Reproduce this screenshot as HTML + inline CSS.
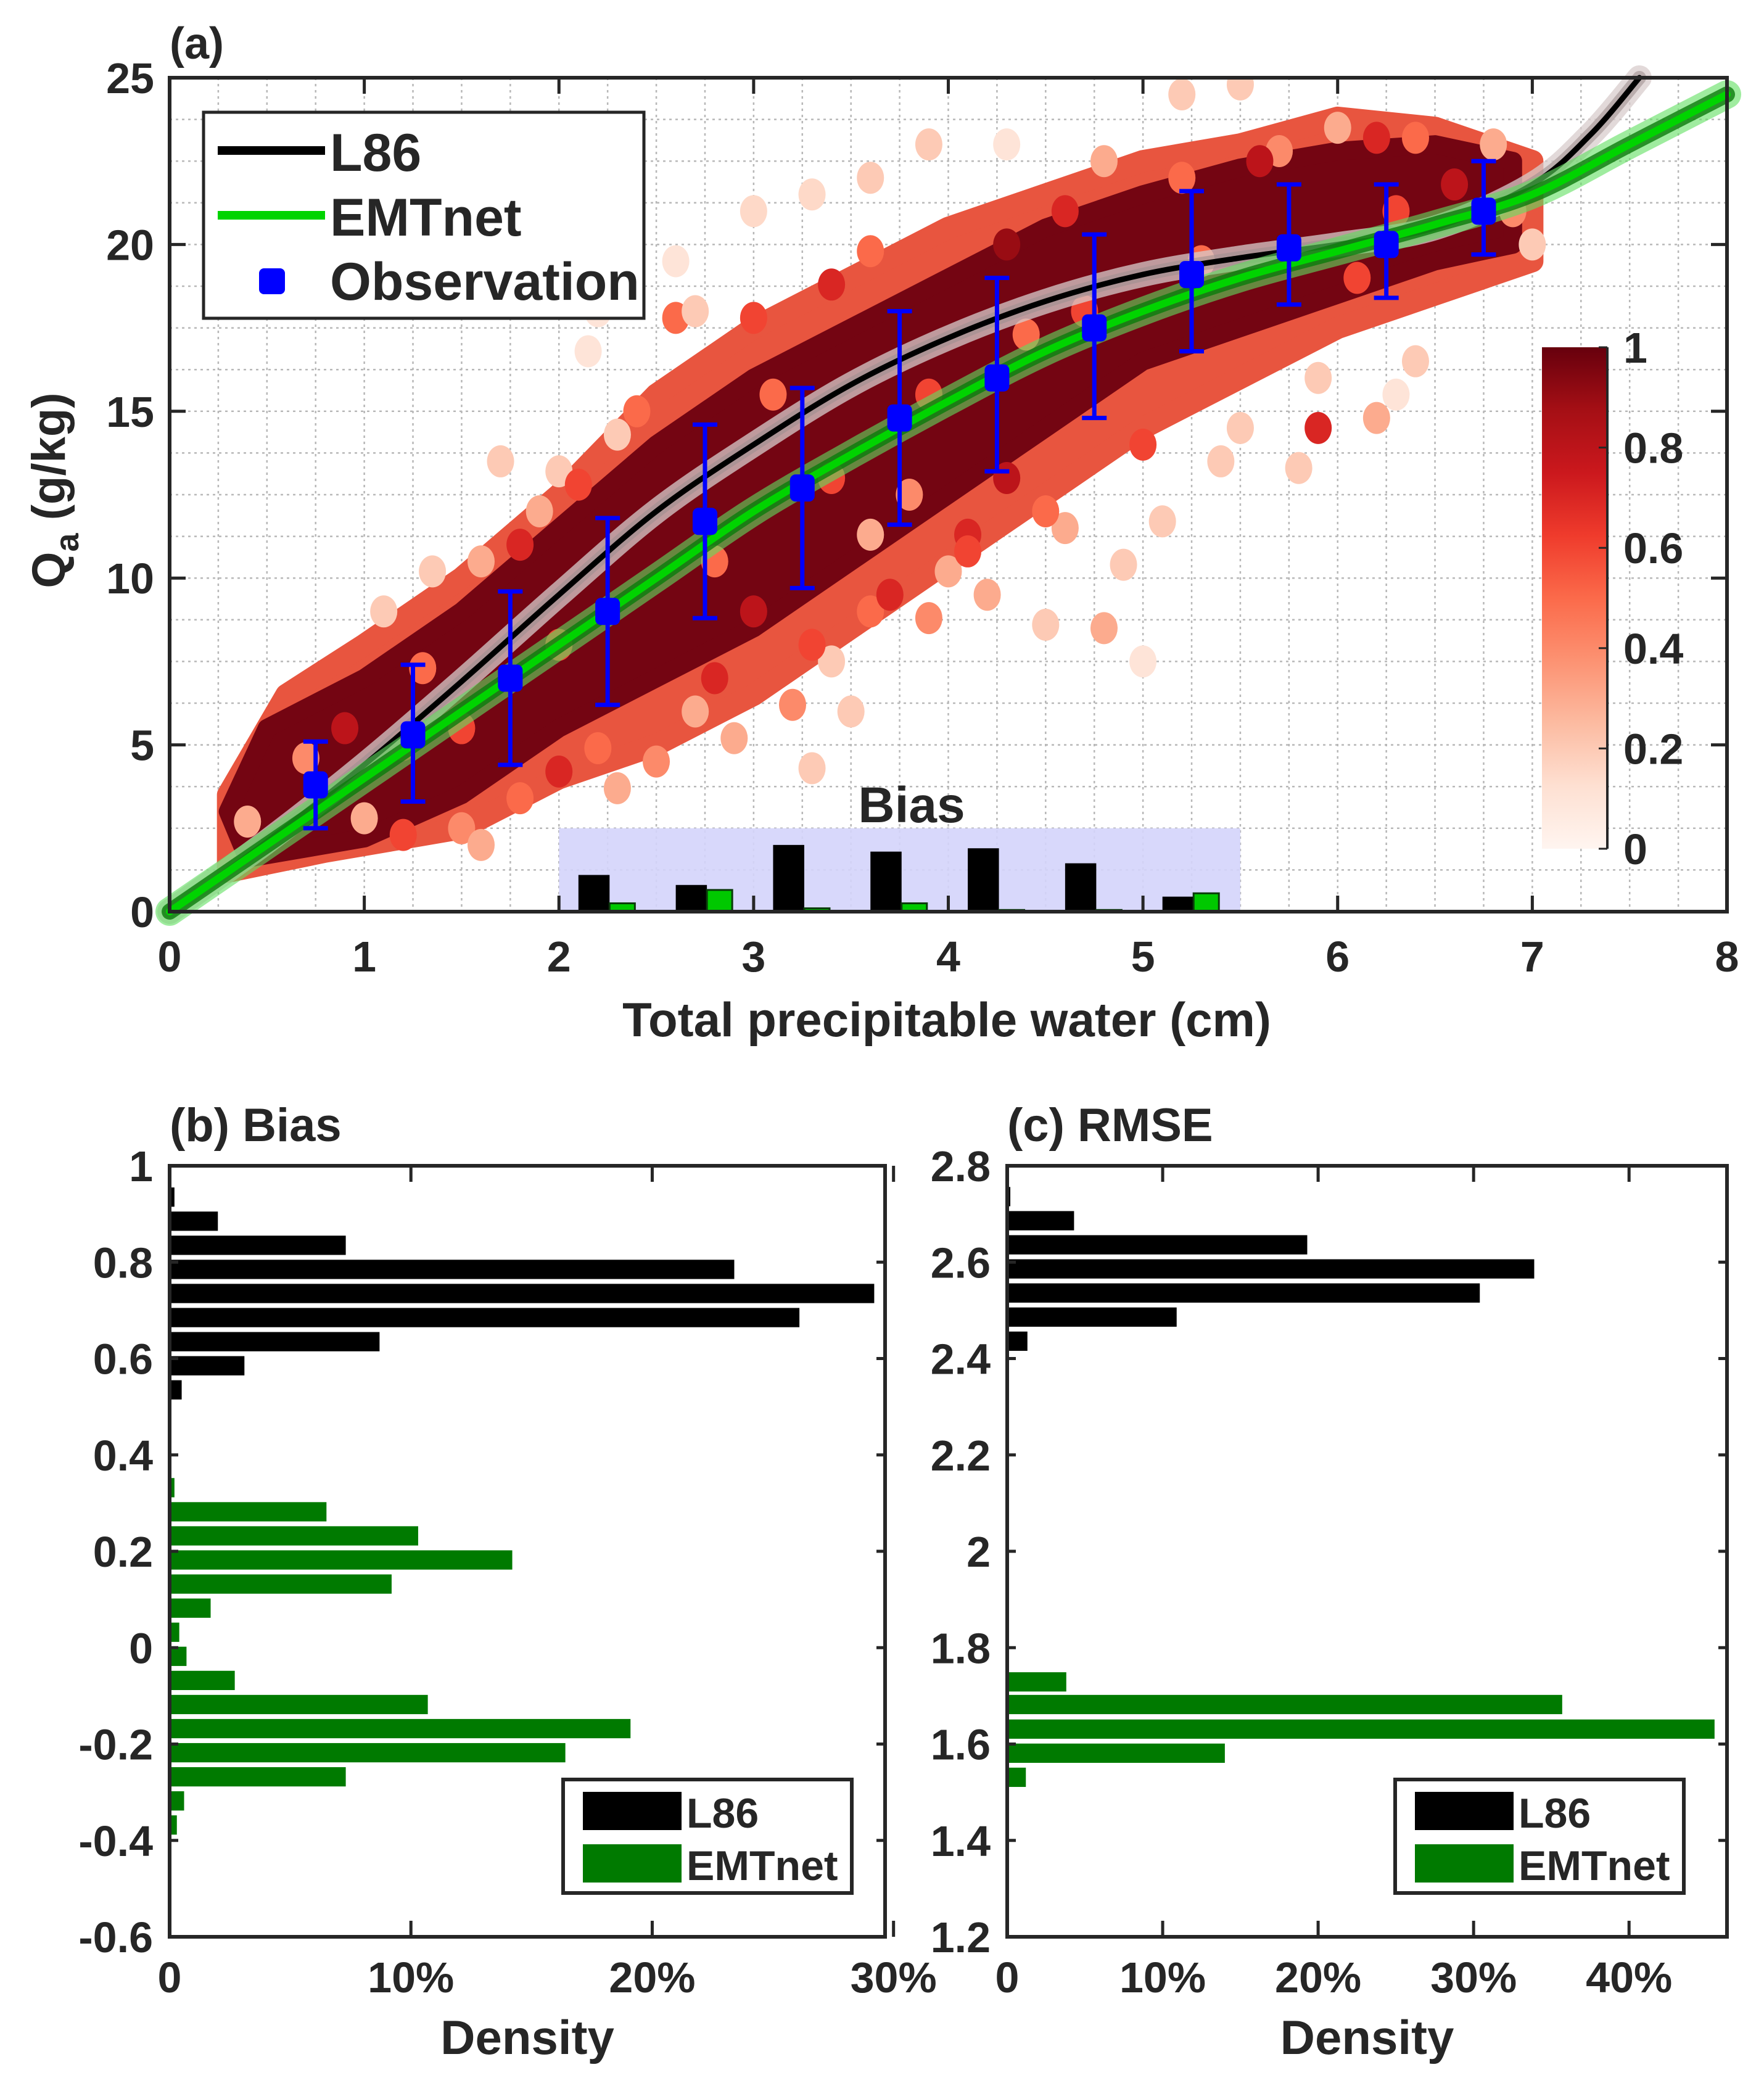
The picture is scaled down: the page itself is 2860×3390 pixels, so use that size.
<!DOCTYPE html>
<html><head><meta charset="utf-8"><style>
html,body{margin:0;padding:0;background:#fff}
svg{display:block}
text{font-family:"Liberation Sans",Arial,sans-serif;font-weight:bold;fill:#262626}
</style></head><body>
<svg id="fig" xmlns="http://www.w3.org/2000/svg" width="2860" height="3390" viewBox="0 0 2860 3390">
<defs>
<linearGradient id="cbgrad" x1="0" y1="1" x2="0" y2="0">
<stop offset="0" stop-color="#fff5f0"/><stop offset="0.125" stop-color="#fee0d2"/><stop offset="0.25" stop-color="#fcbba1"/><stop offset="0.375" stop-color="#fc9272"/><stop offset="0.5" stop-color="#fb6a4a"/><stop offset="0.625" stop-color="#ef3b2c"/><stop offset="0.75" stop-color="#cb181d"/><stop offset="0.875" stop-color="#a50f15"/><stop offset="1" stop-color="#67000d"/>
</linearGradient>
<clipPath id="clipA"><rect x="275" y="126" width="2525" height="1352"/></clipPath>
</defs>
<g id="panelA"></g>
<g id="panelB"></g>
<g id="panelC"></g>
</svg>
<script>
// ---------- Panel (a) data ----------
const obsX = [0.75,1.25,1.75,2.25,2.75,3.25,3.75,4.25,4.75,5.25,5.75,6.25,6.75];
const obsY = [3.8,5.3,7.0,9.0,11.7,12.7,14.8,16.0,17.5,19.1,19.9,20.0,21.0];
const obsLo = [2.5,3.3,4.4,6.2,8.8,9.7,11.6,13.2,14.8,16.8,18.2,18.4,19.7];
const obsHi = [5.1,7.4,9.6,11.8,14.6,15.7,18.0,19.0,20.3,21.6,21.8,21.8,22.5];
const l86X = [0,0.5,1,1.5,2,2.5,3,3.5,4,4.5,5,5.5,6,6.5,7,7.3,7.55];
const l86Y = [0,2.1,4.4,6.9,9.5,12.0,14.0,15.8,17.2,18.3,19.1,19.6,20.0,20.5,21.8,23.3,25.0];
const emtX = [0,0.5,1,1.5,2,2.5,3,3.5,4,4.5,5,5.5,6,6.5,7,7.5,8];
const emtY = [0,2.0,4.0,6.0,8.0,10.0,12.0,13.7,15.3,16.8,18.0,19.0,19.8,20.6,21.5,23.0,24.5];
const biasCenters = [2.25,2.75,3.25,3.75,4.25,4.75,5.25];
const biasL86 = [1.1,0.8,2.0,1.8,1.9,1.45,0.45];
const biasEMT = [0.25,0.65,0.1,0.25,0.05,0.05,0.55];
const xTicksA = [0,1,2,3,4,5,6,7,8];
const yTicksA = [0,5,10,15,20,25];
const cbTicks = [0,0.2,0.4,0.6,0.8,1];
const cloudOuterLo = [[0.3,1.2],[0.8,1.8],[1.5,2.5],[2,4],[2.5,5],[3,6.5],[3.5,8.5],[4,10.5],[4.5,12.5],[5,14.5],[5.5,16],[6,17.5],[6.5,18.5],[7,19.5]];
const cloudOuterHi = [[7,22.5],[6.5,23.5],[6,23.8],[5.5,23],[5,22.5],[4.5,21.5],[4,20.5],[3.5,19],[3,17.5],[2.5,15.5],[2,12.5],[1.5,10.0],[1,8],[0.6,6.5],[0.3,3.5]];
const cloudInnerLo = [[0.4,1.6],[1,2.2],[1.5,3.5],[2,5.5],[2.5,7],[3,8.5],[3.5,10.5],[4,12.5],[4.5,14.5],[5,16.5],[5.5,17.5],[6,18.5],[6.5,19.5],[6.9,20]];
const cloudInnerHi = [[6.9,22.5],[6.5,23],[6,22.8],[5.5,22.3],[5,21.5],[4.5,20.5],[4,19],[3.5,17.5],[3,16],[2.5,14],[2,11.5],[1.5,9],[1,7],[0.5,5.5],[0.3,3]];
const scatterPts = [[2.15,16.8,.1],[2.0,13.2,.2],[2.3,14.3,.2],[2.6,19.5,.1],[3.0,21.0,.15],[3.3,21.5,.15],[3.6,22.0,.2],[3.9,23.0,.2],[4.3,23.0,.1],[4.8,22.5,.3],[5.2,24.5,.2],[5.5,24.8,.2],[5.2,22.0,.5],[5.7,22.8,.4],[6.0,23.5,.3],[6.4,23.2,.5],[6.8,23.0,.3],[7.0,20.0,.2],[6.4,16.5,.2],[6.3,15.5,.1],[5.9,16.0,.2],[5.5,14.5,.2],[5.4,13.5,.2],[5.1,11.7,.2],[4.9,10.4,.2],[5.0,7.5,.1],[4.5,8.6,.2],[4.6,11.5,.3],[4.2,9.5,.3],[4.0,10.2,.3],[3.8,12.5,.4],[3.6,11.3,.3],[3.4,7.5,.2],[3.2,6.2,.4],[2.9,5.2,.3],[2.7,6.0,.3],[3.3,4.3,.2],[2.3,3.7,.3],[2.2,4.9,.5],[1.8,3.4,.5],[1.5,2.5,.4],[1.6,2.0,.3],[1.0,2.8,.3],[0.7,4.6,.4],[0.4,2.7,.3],[1.3,7.3,.5],[1.1,9.0,.2],[1.35,10.2,.2],[1.6,10.5,.3],[1.9,12.0,.3],[2.6,17.8,.5],[2.7,18.0,.2],[2.2,18.0,.1],[1.7,13.5,.2],[4.3,20.0,.9],[5.9,14.5,.7],[5.0,14.0,.6],[3.9,15.5,.6],[3.0,9.0,.8],[4.1,11.3,.7],[6.1,19.0,.6],[6.6,21.8,.8],[6.9,21.0,.4],[5.8,13.3,.2],[6.2,14.8,.3],[4.8,8.5,.3],[2.5,4.5,.4],[3.6,9.0,.5],[1.2,5.0,.7],[0.9,5.5,.8],[3.5,6.0,.2],[4.4,17.3,.5],[2.0,8.0,.6],[2.8,10.5,.5],[3.4,13.0,.6],[4.7,18.0,.6],[5.3,19.5,.5],[6.3,21.0,.6],[1.5,5.5,.6],[3.1,15.5,.5],
[3.3,8.0,.6],[3.7,9.5,.7],[4.1,10.8,.6],[4.5,12.0,.5],[3.9,8.8,.4],[4.3,13.0,.8],[2.8,7.0,.7],[3.0,17.8,.6],[3.4,18.8,.7],[2.4,15.0,.5],[2.1,12.8,.6],[1.8,11.0,.7],[4.6,21.0,.7],[5.6,22.5,.8],[6.2,23.2,.7],[1.2,2.3,.6],[2.0,4.2,.7],[3.6,19.8,.5]];

// ---------- Panel (b) data ----------
const bCentL86 = [0.935,0.885,0.835,0.785,0.735,0.685,0.635,0.585,0.535];
const bDensL86 = [0.2,2.0,7.3,23.4,29.2,26.1,8.7,3.1,0.5];
const bCentEMT = [0.332,0.282,0.232,0.182,0.132,0.082,0.032,-0.018,-0.068,-0.118,-0.168,-0.218,-0.268,-0.318,-0.368];
const bDensEMT = [0.2,6.5,10.3,14.2,9.2,1.7,0.4,0.7,2.7,10.7,19.1,16.4,7.3,0.6,0.3];
const bYTicks = [-0.6,-0.4,-0.2,0,0.2,0.4,0.6,0.8,1];
const bXTicks = [0,10,20,30];
// ---------- Panel (c) data ----------
const cCentL86 = [2.736,2.686,2.636,2.586,2.536,2.486,2.436];
const cDensL86 = [0.2,4.3,19.3,33.9,30.4,10.9,1.3];
const cCentEMT = [1.729,1.682,1.631,1.581,1.531];
const cDensEMT = [3.8,35.7,45.5,14.0,1.2];
const cYTicks = [1.2,1.4,1.6,1.8,2,2.2,2.4,2.6,2.8];
const cXTicks = [0,10,20,30,40];

const NS='http://www.w3.org/2000/svg';
function mk(parent, tag, attrs, txt){const e=document.createElementNS(NS,tag);for(const k in attrs)e.setAttribute(k,attrs[k]);if(txt!==undefined)e.textContent=txt;parent.appendChild(e);return e;}
const reds=['#fff5f0','#fee0d2','#fcbba1','#fc9272','#fb6a4a','#ef3b2c','#cb181d','#a50f15','#67000d'];
function hex2(h){return [parseInt(h.substr(1,2),16),parseInt(h.substr(3,2),16),parseInt(h.substr(5,2),16)];}
function redsAt(v){v=Math.max(0,Math.min(1,v));const p=v*8,i=Math.min(7,Math.floor(p)),f=p-i;const a=hex2(reds[i]),b=hex2(reds[i+1]);return 'rgb('+a.map((c,k)=>Math.round(c+(b[k]-c)*f)).join(',')+')';}

// ---------- Panel A ----------
const A = document.getElementById('panelA');
const ax0=275, ax1=2800, ay0=1478, ay1=126;
const sx=v=>ax0+(v/8)*(ax1-ax0);
const sy=v=>ay0-(v/25)*(ay0-ay1);
const grid=mk(A,'g',{'stroke':'#b8b8b8','stroke-width':2.5,'stroke-dasharray':'4 6'});


for(let v=0.25;v<8;v+=0.25) mk(grid,'line',{x1:sx(v),x2:sx(v),y1:ay1,y2:ay0});
for(let v=1.25;v<25;v+=1.25) mk(grid,'line',{x1:ax0,x2:ax1,y1:sy(v),y2:sy(v)});
const inset=mk(A,'g',{});


mk(inset,'rect',{x:sx(2),y:sy(2.5),width:sx(5.5)-sx(2),height:sy(0)-sy(2.5),fill:'#d4d4fb','fill-opacity':0.9});
const cloud=mk(A,'g',{'clip-path':'url(#clipA)'});


function polyPts(lo,hi){return lo.concat(hi).map(p=>sx(p[0])+','+sy(p[1])).join(' ');}
mk(cloud,'polygon',{points:polyPts(cloudOuterLo,cloudOuterHi),fill:'#e8553f','stroke':'#e8553f','stroke-width':36,'stroke-linejoin':'round'});
mk(cloud,'polygon',{points:polyPts(cloudInnerLo,cloudInnerHi),fill:'#740512','stroke':'#740512','stroke-width':30,'stroke-linejoin':'round'});
scatterPts.forEach(p=>{
  const e=mk(cloud,'ellipse',{cx:sx(p[0]),cy:sy(p[1]),rx:22,ry:26,fill:redsAt(p[2])});
  
  
});
function smooth(xs,ys){let d='M'+sx(xs[0])+','+sy(ys[0]);for(let i=0;i<xs.length-1;i++){const p0=[sx(xs[Math.max(0,i-1)]),sy(ys[Math.max(0,i-1)])],p1=[sx(xs[i]),sy(ys[i])],p2=[sx(xs[i+1]),sy(ys[i+1])],p3=[sx(xs[Math.min(xs.length-1,i+2)]),sy(ys[Math.min(xs.length-1,i+2)])];const c1=[p1[0]+(p2[0]-p0[0])/6,p1[1]+(p2[1]-p0[1])/6],c2=[p2[0]-(p3[0]-p1[0])/6,p2[1]-(p3[1]-p1[1])/6];d+=' C'+c1+' '+c2+' '+p2;}return d;}
const lineG=mk(A,'g',{fill:'none','stroke-linecap':'round'});


const dL=smooth(l86X,l86Y), dE=smooth(emtX,emtY);
mk(lineG,'path',{d:dL,stroke:'#d8cccc','stroke-width':40,'stroke-opacity':0.75});
mk(lineG,'path',{d:dL,stroke:'#a09090','stroke-width':22,'stroke-opacity':0.6});
const l86=mk(lineG,'path',{d:dL,stroke:'#000','stroke-width':9});


mk(lineG,'path',{d:dE,stroke:'#5fe05f','stroke-width':46,'stroke-opacity':0.6});
mk(lineG,'path',{d:dE,stroke:'#0a7a0a','stroke-width':26,'stroke-opacity':0.8});
const emt=mk(lineG,'path',{d:dE,stroke:'#00d400','stroke-width':12});


biasCenters.forEach((c,i)=>{
  const b=mk(inset,'rect',{x:sx(c-0.15),y:sy(biasL86[i]),width:sx(0.16)-sx(0),height:sy(0)-sy(biasL86[i]),fill:'#000'});
  
  
  const g=mk(inset,'rect',{x:sx(c+0.01),y:sy(biasEMT[i]),width:sx(0.13)-sx(0),height:sy(0)-sy(biasEMT[i]),fill:'#00c800',stroke:'#0a3a0a','stroke-width':3});
  
  
});
const bl=mk(A,'text',{x:1478,y:1333,'font-size':82,'text-anchor':'middle',fill:'#111'},'Bias');


const obsG=mk(A,'g',{});


obsX.forEach((x,i)=>{
  const X=sx(x);
  mk(obsG,'line',{x1:X,x2:X,y1:sy(obsLo[i]),y2:sy(obsHi[i]),stroke:'#0000ff','stroke-width':7});
  mk(obsG,'line',{x1:X-20,x2:X+20,y1:sy(obsLo[i]),y2:sy(obsLo[i]),stroke:'#0000ff','stroke-width':7});
  mk(obsG,'line',{x1:X-20,x2:X+20,y1:sy(obsHi[i]),y2:sy(obsHi[i]),stroke:'#0000ff','stroke-width':7});
  const m=mk(obsG,'rect',{x:X-20,y:sy(obsY[i])-22,width:40,height:44,rx:9,fill:'#0000ff'});
  
  
});
const fr=mk(A,'rect',{x:ax0,y:ay1,width:ax1-ax0,height:ay0-ay1,fill:'none',stroke:'#262626','stroke-width':6});


xTicksA.forEach(v=>{
  mk(A,'line',{x1:sx(v),x2:sx(v),y1:ay0,y2:ay0-26,stroke:'#262626','stroke-width':5});
  mk(A,'line',{x1:sx(v),x2:sx(v),y1:ay1,y2:ay1+26,stroke:'#262626','stroke-width':5});
  const t=mk(A,'text',{x:sx(v),y:1575,'font-size':70,'text-anchor':'middle'},String(v));
  
  
});
yTicksA.forEach(v=>{
  mk(A,'line',{x1:ax0,x2:ax0+26,y1:sy(v),y2:sy(v),stroke:'#262626','stroke-width':5});
  mk(A,'line',{x1:ax1,x2:ax1-26,y1:sy(v),y2:sy(v),stroke:'#262626','stroke-width':5});
  const t=mk(A,'text',{x:250,y:sy(v)+25,'font-size':70,'text-anchor':'end'},String(v));
  
  
});
let t;
t=mk(A,'text',{x:275,y:95,'font-size':72},'(a)');


t=mk(A,'text',{x:1535,y:1680,'font-size':78,'text-anchor':'middle'},'Total precipitable water (cm)');


t=mk(A,'text',{x:0,y:0,'font-size':76,'text-anchor':'middle',transform:'translate(105,795) rotate(-90)'});


t.innerHTML='Q<tspan font-size="54" dy="22">a</tspan><tspan dy="-22"> (g/kg)</tspan>';
const lg=mk(A,'g',{});


mk(lg,'rect',{x:330,y:182,width:714,height:334,fill:'#fff',stroke:'#262626','stroke-width':5});
mk(lg,'line',{x1:353,x2:527,y1:244,y2:244,stroke:'#000','stroke-width':14});
mk(lg,'text',{x:535,y:277,'font-size':86,fill:'#000'},'L86');
mk(lg,'line',{x1:353,x2:527,y1:349,y2:349,stroke:'#00d400','stroke-width':14});
mk(lg,'text',{x:535,y:382,'font-size':86,fill:'#000'},'EMTnet');
mk(lg,'rect',{x:420,y:435,width:42,height:42,rx:8,fill:'#0000ff'});
mk(lg,'text',{x:535,y:486,'font-size':86,fill:'#000'},'Observation');
const cb=mk(A,'g',{});


const cbx=2500,cbw=106,cbTop=563,cbBot=1376;
mk(cb,'rect',{x:cbx,y:cbTop,width:cbw,height:cbBot-cbTop,fill:'url(#cbgrad)'});
cbTicks.forEach(v=>{
  const y=cbBot-v*(cbBot-cbTop);
  mk(cb,'line',{x1:cbx+cbw-14,x2:cbx+cbw,y1:y,y2:y,stroke:'#262626','stroke-width':3});
  const tt=mk(cb,'text',{x:cbx+cbw+26,y:y+25,'font-size':70},String(v));
  
  
});
mk(cb,'line',{x1:cbx+cbw,x2:cbx+cbw,y1:cbTop,y2:cbBot,stroke:'#262626','stroke-width':4});

function hist(G, left, right, top, bottom, ymin, ymax, xmax, yTicks, xTicks, centL, densL, centE, densE, title, leg, ylabFmt){
  const X=v=>left+(v/xmax)*(right-left);
  const Y=v=>bottom-(v-ymin)/(ymax-ymin)*(bottom-top);
  const bw=(bottom-top)/(ymax-ymin)*0.05*0.8;
  centL.forEach((c,i)=>{const r=mk(G,'rect',{x:left,y:Y(c)-bw/2,width:X(densL[i])-left,height:bw,fill:'#000'});
    
    });
  centE.forEach((c,i)=>{const r=mk(G,'rect',{x:left,y:Y(c)-bw/2,width:X(densE[i])-left,height:bw,fill:'#007a00'});
    
    });
  mk(G,'rect',{x:left,y:top,width:right-left,height:bottom-top,fill:'none',stroke:'#262626','stroke-width':6});
  yTicks.forEach(v=>{
    mk(G,'line',{x1:left,x2:left+14,y1:Y(v),y2:Y(v),stroke:'#262626','stroke-width':5});
    mk(G,'line',{x1:right,x2:right-14,y1:Y(v),y2:Y(v),stroke:'#262626','stroke-width':5});
    const tt=mk(G,'text',{x:left-27,y:Y(v)+25,'font-size':70,'text-anchor':'end'},ylabFmt(v));
    
    
  });
  xTicks.forEach(v=>{
    mk(G,'line',{x1:X(v),x2:X(v),y1:bottom,y2:bottom-26,stroke:'#262626','stroke-width':5});
    mk(G,'line',{x1:X(v),x2:X(v),y1:top,y2:top+26,stroke:'#262626','stroke-width':5});
    const tt=mk(G,'text',{x:X(v),y:3230,'font-size':70,'text-anchor':'middle'},v===0?'0':v+'%');
    
    
  });
  let tt=mk(G,'text',{x:left,y:1850,'font-size':76},title);
  
  
  tt=mk(G,'text',{x:(left+right)/2,y:3330,'font-size':78,'text-anchor':'middle'},'Density');
  
  
  const lgg=mk(G,'g',{});
  
  
  mk(lgg,'rect',{x:leg,y:2885,width:468,height:184,fill:'#fff',stroke:'#262626','stroke-width':6});
  mk(lgg,'rect',{x:leg+32,y:2905,width:160,height:62,fill:'#000'});
  mk(lgg,'text',{x:leg+200,y:2963,'font-size':68,fill:'#000'},'L86');
  mk(lgg,'rect',{x:leg+32,y:2990,width:160,height:62,fill:'#007a00'});
  mk(lgg,'text',{x:leg+200,y:3048,'font-size':68,fill:'#000'},'EMTnet');
}
const fmt=v=>(Math.round(v*10)/10).toString();
hist(document.getElementById('panelB'),275,1435,1890,3140,-0.6,1,29.65,bYTicks,bXTicks,bCentL86,bDensL86,bCentEMT,bDensEMT,'(b) Bias',913,fmt);
hist(document.getElementById('panelC'),1633,2800,1890,3140,1.2,2.8,46.3,cYTicks,cXTicks,cCentL86,cDensL86,cCentEMT,cDensEMT,'(c) RMSE',2262,fmt);
</script>
</body></html>
